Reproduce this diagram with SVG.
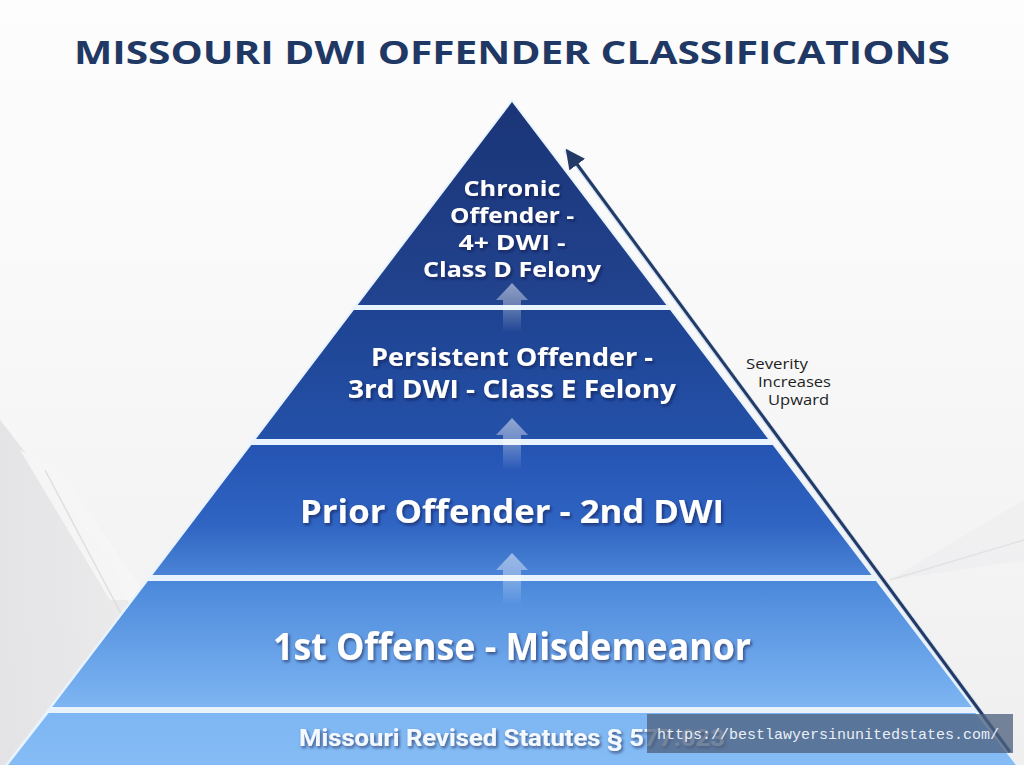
<svg xmlns="http://www.w3.org/2000/svg" width="1024" height="765" viewBox="0 0 1024 765">
  <defs>
    <linearGradient id="bg" x1="0" y1="0" x2="0" y2="1">
      <stop offset="0" stop-color="#fdfdfd"/>
      <stop offset="0.45" stop-color="#f8f8f9"/>
      <stop offset="1" stop-color="#efeff0"/>
    </linearGradient>
    <linearGradient id="side" x1="0" y1="0" x2="1" y2="0">
      <stop offset="0" stop-color="#e2e2e4"/>
      <stop offset="1" stop-color="#eeeeef"/>
    </linearGradient>
    <linearGradient id="g1" x1="0" y1="102" x2="0" y2="305" gradientUnits="userSpaceOnUse">
      <stop offset="0" stop-color="#1a3577"/>
      <stop offset="1" stop-color="#22438f"/>
    </linearGradient>
    <linearGradient id="g2" x1="0" y1="310" x2="0" y2="439" gradientUnits="userSpaceOnUse">
      <stop offset="0" stop-color="#1e4391"/>
      <stop offset="1" stop-color="#2451a9"/>
    </linearGradient>
    <linearGradient id="g3" x1="0" y1="445" x2="0" y2="575" gradientUnits="userSpaceOnUse">
      <stop offset="0" stop-color="#2554b3"/>
      <stop offset="0.6" stop-color="#2f64c2"/>
      <stop offset="1" stop-color="#4a83d6"/>
    </linearGradient>
    <linearGradient id="g4" x1="0" y1="581" x2="0" y2="707" gradientUnits="userSpaceOnUse">
      <stop offset="0" stop-color="#4b88da"/>
      <stop offset="1" stop-color="#7db5f2"/>
    </linearGradient>
    <linearGradient id="g5" x1="0" y1="713" x2="0" y2="765" gradientUnits="userSpaceOnUse">
      <stop offset="0" stop-color="#7db6f3"/>
      <stop offset="1" stop-color="#85bcf5"/>
    </linearGradient>
    <linearGradient id="up" x1="0" y1="0" x2="0" y2="1">
      <stop offset="0" stop-color="#ffffff" stop-opacity="0.5"/>
      <stop offset="0.4" stop-color="#ffffff" stop-opacity="0.35"/>
      <stop offset="1" stop-color="#ffffff" stop-opacity="0"/>
    </linearGradient>
    <filter id="sh" x="-10%" y="-30%" width="120%" height="160%">
      <feDropShadow dx="1.5" dy="2" stdDeviation="1.6" flood-color="#08163a" flood-opacity="0.6"/>
    </filter>
    <marker id="ah" viewBox="0 0 10 10" refX="8" refY="5" markerWidth="6.5" markerHeight="6.5" markerUnits="strokeWidth" orient="auto">
      <path d="M0,0 L10,5 L0,10 Z" fill="#233a66"/>
    </marker>
    <style>
      .title { font-family: "Open Sans", "Inter", "Liberation Sans", sans-serif; font-weight: 700; fill: #1f3864; }
      .tier { font-family: "Open Sans", "Inter", "Liberation Sans", sans-serif; font-weight: 700; fill: #ffffff; text-anchor: middle; filter: url(#sh); }
      .cite { font-family: "Roboto", "Liberation Sans", sans-serif; font-weight: 700; fill: #f4f8ff; text-anchor: middle; filter: url(#sh); }
      .note { font-family: "Open Sans", "Liberation Sans", sans-serif; font-weight: 500; font-size: 14.5px; fill: #1e1e1e; }
      .wm { font-family: "Liberation Mono", "DejaVu Sans Mono", monospace; font-size: 15px; fill: #e9eff7; }
    </style>
  </defs>

  <!-- background -->
  <rect x="0" y="0" width="1024" height="765" fill="url(#bg)"/>
  <polygon points="0,420 110,560 200,765 0,765" fill="url(#side)" opacity="0.9"/>
  <polygon points="20,450 60,470 150,600 110,600" fill="#f6f6f7" opacity="0.9"/>
  <line x1="45" y1="470" x2="135" y2="640" stroke="#d6d6d8" stroke-width="1.5" opacity="0.7"/>
  <polygon points="1024,500 890,580 1024,560" fill="#ececee" opacity="0.5"/>
  <line x1="890" y1="580" x2="1024" y2="540" stroke="#d9d9db" stroke-width="1.5" opacity="0.6"/>

  <!-- title -->
  <text class="title" x="512" y="64" font-size="33" text-anchor="middle" textLength="876" lengthAdjust="spacingAndGlyphs">MISSOURI DWI OFFENDER CLASSIFICATIONS</text>

  <!-- pyramid base (gap colour) -->
  <polygon points="512,99 1018,765 5,765" fill="#e8f3fd"/>

  <g id="tier-chronic">
    <polygon points="512,102 666.3,305 357.7,305" fill="url(#g1)"/>
    <text class="tier" font-size="21.5" x="512" y="196" textLength="97" lengthAdjust="spacingAndGlyphs">Chronic</text>
    <text class="tier" font-size="21.5" x="512" y="223" textLength="124" lengthAdjust="spacingAndGlyphs">Offender -</text>
    <text class="tier" font-size="21.5" x="512" y="250" textLength="107" lengthAdjust="spacingAndGlyphs">4+ DWI -</text>
    <text class="tier" font-size="21.5" x="512" y="277" textLength="178" lengthAdjust="spacingAndGlyphs">Class D Felony</text>
  </g>

  <g id="tier-persistent">
    <polygon points="353.9,310 670.1,310 768.1,439 255.9,439" fill="url(#g2)"/>
    <text class="tier" font-size="24.5" x="512" y="366" textLength="282" lengthAdjust="spacingAndGlyphs">Persistent Offender -</text>
    <text class="tier" font-size="24.5" x="512" y="398" textLength="328" lengthAdjust="spacingAndGlyphs">3rd DWI - Class E Felony</text>
  </g>

  <g id="tier-prior">
    <polygon points="251.3,445 772.7,445 871.5,575 152.5,575" fill="url(#g3)"/>
    <text class="tier" x="512" y="523" font-size="33" textLength="424" lengthAdjust="spacingAndGlyphs">Prior Offender - 2nd DWI</text>
  </g>

  <g id="tier-first">
    <polygon points="148,581 876,581 971.8,707 52.2,707" fill="url(#g4)"/>
    <text class="tier" x="512" y="660" font-size="37" textLength="478" lengthAdjust="spacingAndGlyphs">1st Offense - Misdemeanor</text>
  </g>

  <g id="statute-band">
    <polygon points="48.6,713 975.4,713 1015.9,765 8.1,765" fill="url(#g5)"/>
    <text class="cite" x="512" y="746" font-size="24" textLength="426" lengthAdjust="spacingAndGlyphs">Missouri Revised Statutes § 577.023</text>
  </g>

  <!-- connectors -->
  <g id="connectors">
    <polygon points="512,283 528,300 521,300 521,332 503,332 503,300 496,300" fill="url(#up)"/>
    <polygon points="512,418 528,435 521,435 521,470 503,470 503,435 496,435" fill="url(#up)"/>
    <polygon points="512,553 528,570 521,570 521,605 503,605 503,570 496,570" fill="url(#up)"/>
    <line x1="1010" y1="752" x2="566" y2="150" stroke="#b9d3ee" stroke-width="5" opacity="0.6"/>
    <line x1="1010" y1="752" x2="568" y2="152" stroke="#233a66" stroke-width="3" marker-end="url(#ah)"/>
  </g>

  <g id="severity-label">
    <text class="note" x="746" y="369" textLength="62" lengthAdjust="spacingAndGlyphs">Severity</text>
    <text class="note" x="758" y="387" textLength="73" lengthAdjust="spacingAndGlyphs">Increases</text>
    <text class="note" x="768" y="405" textLength="61" lengthAdjust="spacingAndGlyphs">Upward</text>
  </g>

  <!-- watermark -->
  <g id="watermark">
    <rect x="647" y="714" width="366" height="39" fill="#4f6380" opacity="0.78"/>
    <text class="wm" x="657" y="739">https://bestlawyersinunitedstates.com/</text>
  </g>
</svg>
